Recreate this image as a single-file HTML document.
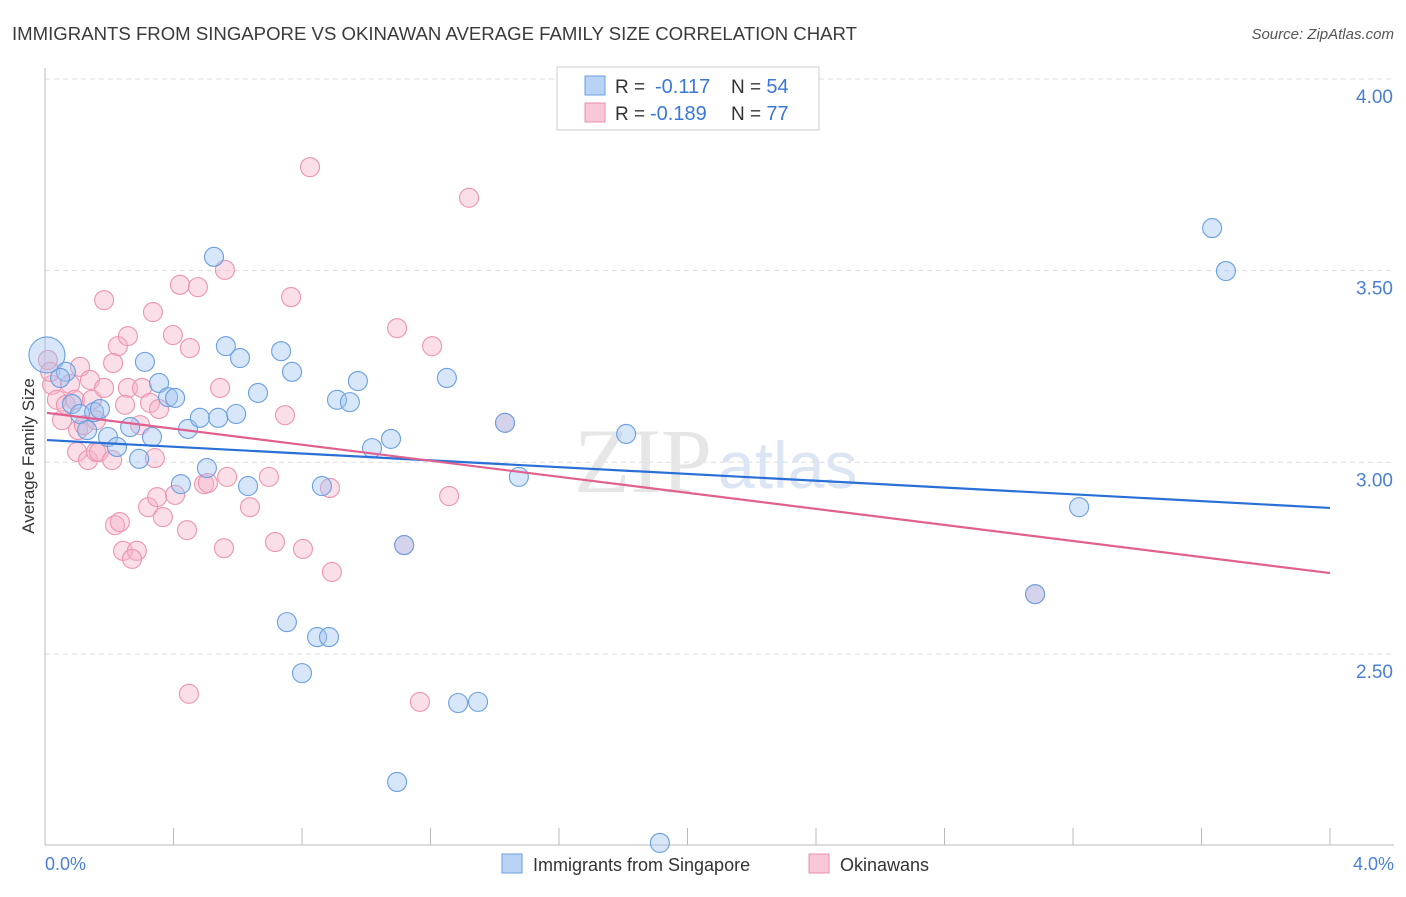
<!DOCTYPE html>
<html><head><meta charset="utf-8"><style>
body{margin:0;background:#fff;font-family:"Liberation Sans",sans-serif}
</style></head><body>
<svg width="1406" height="892" xmlns="http://www.w3.org/2000/svg" id="chart">
<text x="12" y="40" font-size="18" fill="#3a3a3a" textLength="845" lengthAdjust="spacingAndGlyphs">IMMIGRANTS FROM SINGAPORE VS OKINAWAN AVERAGE FAMILY SIZE CORRELATION CHART</text>
<text x="1394" y="39" font-size="15" fill="#555" font-style="italic" text-anchor="end">Source: ZipAtlas.com</text>
<g id="grid"></g>
<line x1="45" y1="68" x2="45" y2="845" stroke="#bbb"/>
<line x1="45" y1="845" x2="1394" y2="845" stroke="#bbb"/>
<text x="712" y="492" font-size="92" fill="#e6e6e6" font-family="Liberation Serif" text-anchor="end">ZIP</text>
<text x="718" y="488" font-size="66" fill="#dbe5f3">atlas</text>
<text transform="translate(34,456) rotate(-90)" font-size="17" fill="#333" text-anchor="middle">Average Family Size</text>
<text x="45" y="870" font-size="18" fill="#4a7fd4">0.0%</text>
<text x="1394" y="870" font-size="18" fill="#4a7fd4" text-anchor="end">4.0%</text>
<g id="pts"></g>
<g id="lines"></g>
<g>
<rect x="557" y="67" width="262" height="63" fill="#fff" stroke="#ccc"/>
<rect x="585" y="76" width="20" height="19" fill="#b9d3f5" stroke="#6a9fe0"/>
<rect x="585" y="103" width="20" height="19" fill="#f8c6d6" stroke="#e890ac"/>
<text x="615" y="93" font-size="19" fill="#333">R = <tspan x="655" fill="#3a78d8" font-size="20">-0.117</tspan><tspan x="731">N = </tspan><tspan fill="#3a78d8" font-size="20">54</tspan></text>
<text x="615" y="120" font-size="19" fill="#333">R = <tspan x="650" fill="#3a78d8" font-size="20">-0.189</tspan><tspan x="731">N = </tspan><tspan fill="#3a78d8" font-size="20">77</tspan></text>
</g>
<g>
<rect x="502" y="854" width="20" height="19" fill="#b9d3f5" stroke="#6a9fe0"/>
<text x="533" y="871" font-size="18" fill="#333">Immigrants from Singapore</text>
<rect x="809" y="854" width="20" height="19" fill="#f8c6d6" stroke="#e890ac"/>
<text x="840" y="871" font-size="18" fill="#333">Okinawans</text>
</g>
</svg>
<script>
const yTicks=[4.0,3.5,3.0,2.5];
const yTickLabels=["4.00","3.50","3.00","2.50"];
const xTicks=[0,0.4,0.8,1.2,1.6,2.0,2.4,2.8,3.2,3.6,4.0];
const blueX=[0.006,0.065,0.047,0.084,0.109,0.153,0.171,0.131,0.196,0.224,0.265,0.333,0.293,0.311,0.355,0.383,0.405,0.445,0.482,0.539,0.595,0.423,0.504,0.632,0.526,0.563,0.607,0.663,0.735,0.769,0.909,0.949,0.974,1.018,1.077,0.862,1.251,1.475,1.809,0.753,0.847,0.884,0.800,1.286,1.348,1.096,1.914,3.633,3.676,3.219,1.432,1.118,3.082];
const blueY=[3.280,3.236,3.220,3.152,3.126,3.131,3.139,3.084,3.066,3.040,3.092,3.066,3.009,3.262,3.207,3.170,3.168,3.087,3.116,3.116,3.126,2.943,2.985,2.938,3.536,3.303,3.272,3.181,3.290,3.236,3.163,3.157,3.212,3.037,3.061,2.938,3.220,2.962,3.074,2.583,2.544,2.544,2.450,2.372,2.375,2.166,2.007,3.611,3.499,2.883,3.103,2.784,2.656];
const pinkX=[0.009,0.022,0.016,0.037,0.053,0.065,0.078,0.093,0.103,0.121,0.109,0.140,0.146,0.159,0.100,0.134,0.159,0.168,0.209,0.184,0.227,0.212,0.258,0.258,0.184,0.249,0.302,0.327,0.355,0.296,0.342,0.420,0.476,0.560,0.336,0.398,0.451,0.545,0.321,0.349,0.367,0.405,0.218,0.233,0.442,0.243,0.286,0.271,0.448,0.557,0.638,0.495,0.507,0.567,0.697,0.716,0.803,0.893,0.747,0.825,0.766,1.320,1.096,1.205,0.887,1.258,1.167,1.432,1.118,3.082];
const pinkY=[3.267,3.202,3.236,3.163,3.110,3.150,3.204,3.163,3.084,3.097,3.249,3.215,3.163,3.110,3.027,3.006,3.027,3.027,3.006,3.423,3.303,3.259,3.329,3.194,3.194,3.150,3.194,3.155,3.139,3.097,3.011,3.463,3.457,3.502,3.392,3.332,3.298,3.194,2.883,2.909,2.857,2.915,2.836,2.844,2.823,2.769,2.769,2.748,2.396,2.776,2.883,2.943,2.946,2.962,2.962,2.792,2.774,2.714,3.123,3.770,3.431,3.690,3.350,3.303,2.933,2.912,2.375,3.103,2.784,2.656];
const blueTrend=[3.058,2.881];
const pinkTrend=[3.129,2.711];
const trendX=[0.006,4.0];
const NS="http://www.w3.org/2000/svg";
const sx=v=>45+v*321.25;
const sy=v=>79+(4-v)*383.3;
function mk(t,a,p){const e=document.createElementNS(NS,t);for(const k in a)e.setAttribute(k,a[k]);p.appendChild(e);return e;}
const grid=document.getElementById('grid');
yTicks.forEach((t,i)=>{
 const l=mk('line',{x1:45,x2:1394,y1:sy(t),y2:sy(t),stroke:'#ddd','stroke-dasharray':'5,4'},grid);
 
 
 const tx=mk('text',{x:1393,y:sy(t)+24,'font-size':19,fill:'#4a7fd4','text-anchor':'end'},grid);
 tx.textContent=yTickLabels[i];
 
 
});
xTicks.forEach(t=>{
 const l=mk('line',{x1:sx(t),x2:sx(t),y1:828,y2:845,stroke:'#bbb'},grid);
 
 
});
const pts=document.getElementById('pts');
pinkX.forEach((x,i)=>{
 const c=mk('circle',{cx:sx(x),cy:sy(pinkY[i]),r:9.5,fill:'rgba(246,178,200,0.42)',stroke:'#ec94b0','stroke-width':1.1},pts);
 
 
});
blueX.forEach((x,i)=>{
 const c=mk('circle',{cx:sx(x),cy:sy(blueY[i]),r:i===0?18:9.5,fill:'rgba(160,196,240,0.42)',stroke:'#6a9fe0','stroke-width':1.1},pts);
 
 
});
const lines=document.getElementById('lines');
const bl=mk('line',{x1:sx(trendX[0]),y1:sy(blueTrend[0]),x2:sx(trendX[1]),y2:sy(blueTrend[1]),stroke:'#2a6fd6','stroke-width':2.2},lines);


const pl=mk('line',{x1:sx(trendX[0]),y1:sy(pinkTrend[0]),x2:sx(trendX[1]),y2:sy(pinkTrend[1]),stroke:'#e06090','stroke-width':2.2},lines);


</script>
</body></html>
